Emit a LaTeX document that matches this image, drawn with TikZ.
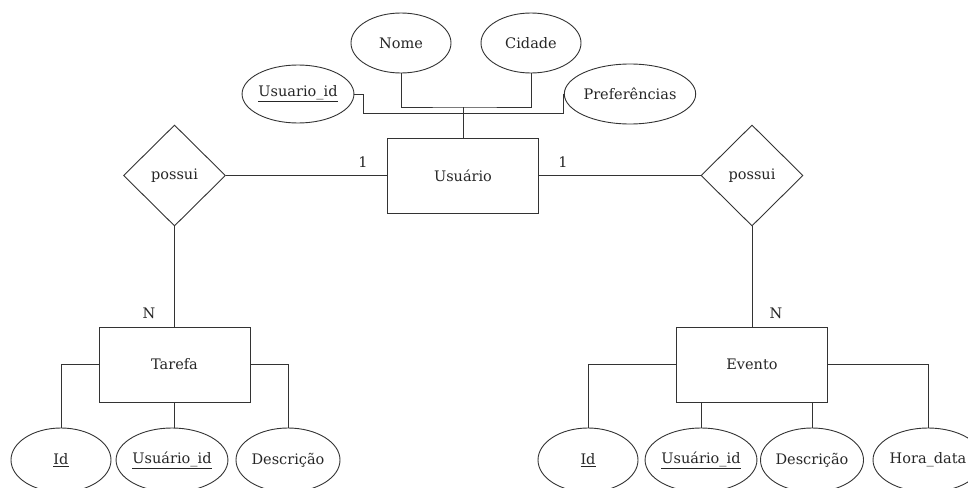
\documentclass[tikz,border=0pt]{standalone}
\usepackage{fontspec}
\setmainfont{DejaVu Serif}
\usetikzlibrary{shapes.geometric}
\begin{document}
\begin{tikzpicture}[x=1pt,y=-1pt,
  ln/.style={line width=0.9pt, draw=black!80},
  ent/.style={ln, rectangle, minimum width=151pt, minimum height=75pt, inner sep=0pt},
  attr/.style={ln, ellipse, minimum width=100pt, minimum height=64pt, inner sep=0pt},
  rel/.style={ln, diamond, minimum width=102pt, minimum height=101pt, inner sep=0pt},
  lbl/.style={inner sep=0pt, text=black!85},
  font=\fontsize{14.5}{17}\selectfont, text=black!85]
\useasboundingbox (0,0) rectangle (968,487);
\clip (0,0) rectangle (968,487);

% entities
\node[ent] (usu) at (463,175.5) {Usuário};
\node[ent] (tar) at (174.5,364.5) {Tarefa};
\node[ent] (eve) at (752,364.5) {Evento};

% relationships
\node[rel] (r1) at (174.5,175.5) {possui};
\node[rel] (r2) at (752,175.5) {possui};

% Usuario attributes
\node[attr, minimum height=60pt] (nome) at (401,43) {Nome};
\node[attr, minimum height=60pt] (cid) at (531,43) {Cidade};
\node[attr, minimum height=58pt] (uid) at (298,94) {\underline{Usuario\_id}};
\node[attr, minimum width=110pt, minimum height=60pt] (pref) at (630,94) {Preferências};

% Tarefa attributes
\node[attr] (tid) at (61,460) {\underline{Id}};
\node[attr, minimum width=96pt] (tuid) at (172,460) {\underline{Usuário\_id}};
\node[attr, minimum width=104pt] (tdesc) at (288,460) {Descrição};

% Evento attributes
\node[attr] (eid) at (588,460) {\underline{Id}};
\node[attr, minimum width=96pt] (euid) at (701,460) {\underline{Usuário\_id}};
\node[attr, minimum width=96pt] (edesc) at (812,460) {Descrição};
\node[attr, minimum width=110pt] (ehora) at (928,460) {Hora\_data};

% junction coordinates
\coordinate (j) at (463,107);
\coordinate (a1) at (363,113);
\coordinate (a2) at (563,113);

% connectors around Usuario
\draw[ln] (nome.south) |- (j) -| (cid.south);
\draw[ln] (j) -- (usu.north);
\draw[ln] (uid.east) -| (a1) -- (a2) |- (pref.west);

% relationships
\draw[ln] (r1.east) -- (usu.west);
\draw[ln] (usu.east) -- (r2.west);
\draw[ln] (r1.south) -- (tar.north);
\draw[ln] (r2.south) -- (eve.north);

% Tarefa attributes
\draw[ln] (tar.west) -| (tid.north);
\draw[ln] (tar.south) -- (tuid.north -| tar.south);
\draw[ln] (tar.east) -| (tdesc.north);

% Evento attributes
\draw[ln] (eve.west) -| (eid.north);
\draw[ln] (eve.south -| euid.north) -- (euid.north);
\draw[ln] (eve.south -| edesc.north) -- (edesc.north);
\draw[ln] (eve.east) -| (ehora.north);

% cardinality labels
\node[lbl] (c1) at (363,162) {1};
\node[lbl] (c2) at (563,162) {1};
\node[lbl] (n1) at (149,313) {N};
\node[lbl] (n2) at (776,313) {N};
\end{tikzpicture}
\end{document}
